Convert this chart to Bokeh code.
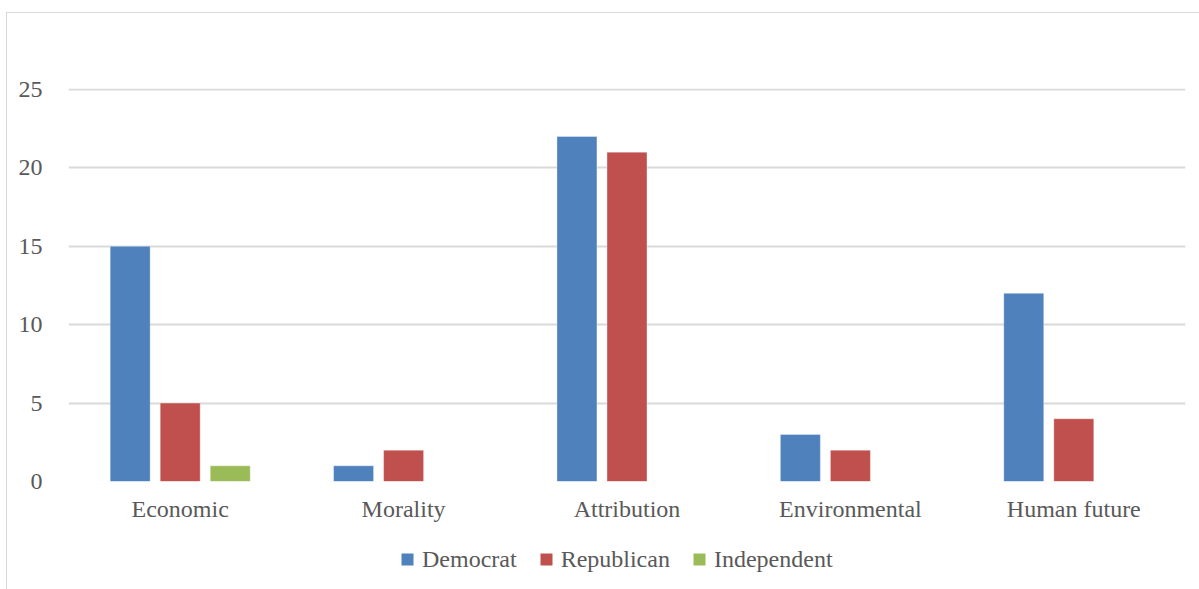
from bokeh.plotting import figure
from bokeh.layouts import column
from bokeh.models import ColumnDataSource, Legend, LegendItem, FactorRange
from bokeh.transform import dodge
from bokeh.embed import file_html
from bokeh.resources import INLINE

# Counts of framing categories by party affiliation
categories = ["Economic", "Morality", "Attribution", "Environmental", "Human future"]
democrat = [15, 1, 22, 3, 12]
republican = [5, 2, 21, 2, 4]
independent = [1, 0, 0, 0, 0]
y_ticks = [0, 5, 10, 15, 20, 25]

series_names = ["Democrat", "Republican", "Independent"]
series_colors = ["#4F81BD", "#C0504D", "#9BBB59"]

source = ColumnDataSource(dict(
    cat=categories, Democrat=democrat, Republican=republican, Independent=independent,
))

FONT = "Liberation Serif"
TEXT = "#595959"
GRID = "#D9D9D9"

p = figure(
    x_range=FactorRange(*categories, range_padding=0),
    y_range=(0, 25.06),
    width=1192, height=517,
    output_backend="svg", toolbar_location=None,
    min_border_left=61, min_border_right=14, min_border_top=75, min_border_bottom=49,
)
p.x_range.range_padding = 0

offsets = [-0.224, 0.0, 0.224]
for name, color, off in zip(series_names, series_colors, offsets):
    p.vbar(x=dodge("cat", off, range=p.x_range), top=name, width=0.179,
           source=source, fill_color=color, line_color="white", line_alpha=0.35,
           line_width=1)

p.outline_line_color = None
p.background_fill_color = "white"
p.border_fill_color = "white"

p.xgrid.grid_line_color = None
p.ygrid.grid_line_color = GRID
p.ygrid.grid_line_width = 2
p.yaxis.ticker = y_ticks

for ax in (p.xaxis, p.yaxis):
    ax.axis_line_color = None
    ax.major_tick_line_color = None
    ax.minor_tick_line_color = None
    ax.major_label_text_font = FONT
    ax.major_label_text_font_size = "24px"
    ax.major_label_text_color = TEXT

p.yaxis.major_label_standoff = 20
p.xaxis.major_label_standoff = 8

# Legend strip under the chart; its swatch renderers sit outside the visible range
leg_fig = figure(
    width=1192, height=59, x_range=(0, 1), y_range=(0, 1),
    output_backend="svg", toolbar_location=None,
    x_axis_location=None, y_axis_location=None,
    min_border_left=0, min_border_right=0, min_border_top=0, min_border_bottom=0,
)
leg_fig.grid.visible = False
leg_fig.outline_line_color = None
leg_fig.border_fill_color = "white"

hidden = ColumnDataSource(dict(x=[-10], y=[-10]))
swatches = [leg_fig.scatter(x="x", y="y", marker="square", size=12, source=hidden,
                            fill_color=c, line_color=None) for c in series_colors]

legend = Legend(
    items=[LegendItem(label=n, renderers=[r]) for n, r in zip(series_names, swatches)],
    orientation="horizontal",
    location=(324, 15),
    label_text_font=FONT, label_text_font_size="24px", label_text_color=TEXT,
    glyph_width=30, glyph_height=30, label_standoff=-7, spacing=14,
    border_line_color=None, background_fill_alpha=0, padding=0, margin=0,
)
leg_fig.add_layout(legend, "center")

layout = column(p, leg_fig, spacing=0)
layout.styles = {
    "margin-left": "6px", "margin-top": "12px",
    "border-left": "1px solid #D9D9D9", "border-top": "1px solid #D9D9D9",
}

open("out.html", "w").write(file_html(layout, INLINE))
